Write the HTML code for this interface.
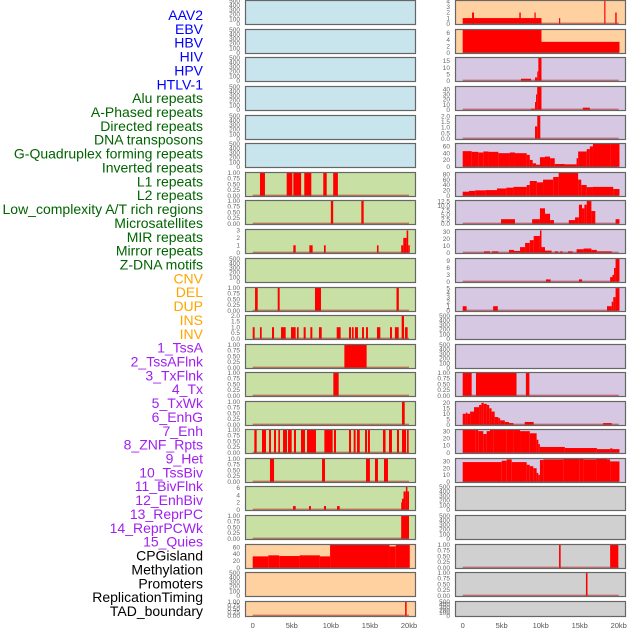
<!DOCTYPE html>
<html><head><meta charset="utf-8">
<style>
html,body{margin:0;padding:0;background:#fff;}
svg{display:block;font-family:"Liberation Sans",sans-serif;}
</style></head>
<body>
<svg id="chart" width="630" height="630" viewBox="0 0 630 630"></svg>
<script>
const labels = ["AAV2","EBV","HBV","HIV","HPV","HTLV-1","Alu repeats","A-Phased repeats","Directed repeats","DNA transposons","G-Quadruplex forming repeats","Inverted repeats","L1 repeats","L2 repeats","Low_complexity A/T rich regions","Microsatellites","MIR repeats","Mirror repeats","Z-DNA motifs","CNV","DEL","DUP","INS","INV","1_TssA","2_TssAFlnk","3_TxFlnk","4_Tx","5_TxWk","6_EnhG","7_Enh","8_ZNF_Rpts","9_Het","10_TssBiv","11_BivFlnk","12_EnhBiv","13_ReprPC","14_ReprPCWk","15_Quies","CPGisland","Methylation","Promoters","ReplicationTiming","TAD_boundary"];
const labelGroups = [6,13,5,15,5];
const xTickValues = [0,5,10,15,20];
const xTickLabels = ["0","5kb","10kb","15kb","20kb"];

// ---- left column data: [startKb, endKb, value]
const dL7 = [[0.93,1.57,1],[4.35,5.07,1],[5.2,6.2,1],[6.6,7.5,1],[9.03,9.47,1],[10.3,10.9,1]];
const dL8 = [[10.0,10.3,1],[13.9,14.2,1]];
const dL9 = [[5.2,5.5,1],[7.25,7.67,1],[9.12,9.34,1],[15.9,16.1,1],[19.0,19.27,1],[19.27,19.7,2],[19.7,19.9,3],[19.9,20.1,1]];
const dL11 = [[0.3,0.64,1],[3.2,3.45,1],[7.97,8.74,1],[18.4,18.7,1]];
const dL12 = [[0.0,0.25,1],[0.93,1.15,1],[2.47,2.73,1],[3.62,4.22,1],[4.9,5.5,1],[5.67,5.88,1],[6.52,6.78,1],[7.38,7.63,1],[8.48,8.83,1],[10.75,11.25,1],[12.32,12.58,1],[12.71,12.92,1],[13.09,13.47,1],[13.99,14.24,1],[14.5,14.75,1],[15.9,16.33,1],[17.57,17.82,1],[18.2,18.68,1],[19.06,19.36,2],[19.49,19.83,1]];
const dL13 = [[11.73,14.58,1]];
const dL14 = [[10.32,11.0,1]];
const dL15 = [[19.1,19.45,1]];
const dL16 = [[0.21,0.51,1],[1.19,1.7,1],[2.09,2.34,1],[2.73,2.98,1],[3.28,3.49,1],[3.88,4.39,1],[4.52,4.99,1],[5.28,5.54,1],[6.18,6.69,1],[6.95,8.1,1],[9.17,10.23,1],[10.4,10.66,1],[12.32,12.58,1],[12.92,13.17,1],[13.35,13.7,1],[14.37,14.63,1],[14.75,15.0,1],[16.67,17.0,1],[17.44,17.82,1],[18.46,18.72,1],[19.1,19.62,1],[19.75,19.96,1]];
const dL17 = [[2.21,2.73,1],[8.87,9.25,1],[14.5,15.0,1],[15.65,16.03,1],[16.8,17.31,1]];
const dL18 = [[5.16,5.5,1],[7.2,7.45,1],[9.12,9.38,1],[10.79,11.13,1],[19.0,19.1,2],[19.1,19.3,3],[19.3,19.6,5],[19.6,19.8,6.3],[19.8,20.0,5]];
const dL19 = [[19.0,20.0,1]];
const dL20 = [[0,2.0,33],[2.0,3.4,36],[3.4,6.0,34],[6.0,8.6,36],[8.6,9.9,33],[9.9,17.5,66],[17.5,18.3,62],[18.3,20.1,66]];
const dL22 = [[19.5,19.7,1]];

// ---- right column data
const dR1 = [[0,10.1,1],[1.2,1.45,2],[7.26,7.44,2],[9.2,9.36,2],[12.35,12.5,1],[18.15,18.3,4.2],[19.56,19.74,2]];
const dR2 = [[0,10.1,7],[10.1,20.1,3.3]];
const dR3 = [[7.47,8.76,1.5],[9.27,9.56,2.5],[9.56,9.7,7],[9.7,10.1,20]];
const dR4 = [[8.76,9.27,2],[9.27,9.4,15],[9.4,9.55,30],[9.55,10.1,50],[15.4,16.3,4]];
const dR5 = [[9.27,9.56,1.1],[9.56,9.95,2.1]];
const dR6 = [[0,1.15,46],[1.15,2.0,44],[2.0,2.64,42],[2.64,3.3,45],[3.3,4.57,44],[4.57,6.06,40],[6.06,6.7,42],[6.7,8.2,40],[8.2,8.6,35],[8.6,8.97,20],[8.97,9.4,10],[9.4,9.9,6],[9.9,10.55,28],[10.55,11.2,30],[11.2,11.8,25],[11.8,13.1,8],[13.1,14.6,7],[14.6,14.8,25],[14.8,15.9,45],[15.9,16.3,52],[16.3,16.7,60],[16.7,18.9,68],[18.9,20.1,70]];
const dR7 = [[0,0.8,15],[0.8,1.6,18],[1.6,2.9,20],[2.9,4.4,21],[4.4,5.6,27],[5.6,6.5,30],[6.5,8.2,33],[8.2,8.6,40],[8.6,9.5,55],[9.5,10.3,50],[10.3,11.6,60],[11.6,12.3,70],[12.3,14.8,85],[14.8,15.2,60],[15.2,15.9,40],[15.9,16.7,32],[16.7,19.3,33],[19.3,20.1,25]];
const dR8 = [[4.91,6.7,2.5],[8.9,9.9,2.5],[9.9,10.55,8.5],[10.55,11.2,5.5],[11.2,11.7,2],[13.6,14.4,2],[14.4,14.9,3.5],[14.9,15.3,10.5],[15.3,15.6,8.5],[15.6,15.9,10.5],[15.9,16.5,12.5],[16.5,17.0,7],[19.6,20.1,2.5]];
const dR9 = [[2.73,3.5,2],[3.76,4.57,2],[5.94,6.58,4],[6.58,7.35,2.5],[7.35,8.0,8],[8.0,8.6,14],[8.6,9.1,18],[9.1,9.9,24],[9.9,10.1,32],[10.1,10.55,8],[10.55,11.4,3],[11.8,12.25,2],[12.5,12.8,2],[13.5,14.1,2],[14.6,15.5,5],[15.5,16.5,6],[16.5,17.2,4],[17.2,19.1,2]];
const dR10 = [[10.68,11.27,1],[14.9,15.3,1],[18.9,19.2,2],[19.2,19.4,3],[19.4,19.6,6],[19.6,20.1,10]];
const dR11 = [[0,0.5,1],[3.9,4.5,1],[18.5,19.1,1],[19.1,19.3,2],[19.3,19.6,3],[19.6,20.1,5]];
const dR14 = [[0,1.15,1],[1.7,6.9,1],[8.1,8.55,1]];
const dR15 = [[0,0.4,10],[0.4,0.6,11],[0.6,0.95,10],[0.95,1.45,12],[1.45,2.1,16],[2.1,2.4,18],[2.4,2.7,20],[2.7,3.1,19],[3.1,3.4,18],[3.4,3.7,15],[3.7,4.1,12],[4.1,4.57,7],[4.57,4.8,6],[4.8,5.4,4],[5.4,5.94,2.5],[5.94,6.5,1.5],[7.95,9.1,2.5],[18.0,19.1,1.5]];
const dR16 = [[0,1.6,36],[1.6,2.0,32],[2.0,2.64,30],[2.64,3.07,26],[3.07,3.5,30],[3.5,3.93,32],[3.93,5.64,34],[5.64,6.5,33],[6.5,7.35,32],[7.35,8.6,30],[8.6,9.48,27],[9.48,9.7,18],[9.7,9.9,12],[9.9,13.1,8],[13.1,17.2,6.5],[17.2,18.9,5],[18.9,19.2,6],[19.2,20.1,5]];
const dR17 = [[0,5.0,29],[5.0,5.64,31],[5.64,6.28,33],[6.28,8.2,29],[8.2,8.6,25],[8.6,9.05,23],[9.05,9.48,20],[9.48,9.7,13],[9.7,9.9,10],[9.9,10.34,32],[10.34,12.9,33],[12.9,15.0,35],[15.0,15.5,36],[15.5,17.1,33],[17.1,18.5,35],[18.5,18.9,33],[18.9,20.1,30]];
const dR20 = [[12.35,12.56,1],[18.9,19.95,1]];
const dR21 = [[15.8,16.0,1]];

const T500 = [0,100,200,300,400,500];
const T1 = [0,0.25,0.5,0.75,1];
const L1 = ["0.00","0.25","0.50","0.75","1.00"];
// column-major panel list: [data, ymax, ticks, tickLabels]
const leftPanels = [
 [null,500,T500,null],[null,500,T500,null],[null,500,T500,null],[null,500,T500,null],[null,500,T500,null],[null,500,T500,null],
 [dL7,1,T1,L1],[dL8,1,T1,L1],[dL9,3.1,[0,1,2,3],null],[null,500,T500,null],[dL11,1,T1,L1],
 [dL12,2,[0,0.5,1,1.5,2],["0.0","0.5","1.0","1.5","2.0"]],[dL13,1,T1,L1],[dL14,1,T1,L1],[dL15,1,T1,L1],
 [dL16,1,T1,L1],[dL17,1,T1,L1],[dL18,6.3,[0,2,4,6],null],[dL19,1,T1,L1],
 [dL20,67,[0,20,40,60],null],[null,500,T500,null],[dL22,1,T1,L1]
];
const rightPanels = [
 [dR1,4.1,[0,1,2,3,4],null],[dR2,7,[0,2,4,6],null],[dR3,17.5,[0,5,10,15],null],[dR4,45,[0,10,20,30,40],null],
 [dR5,2.05,[0,0.5,1,1.5,2],["0.0","0.5","1.0","1.5","2.0"]],[dR6,68,[0,20,40,60],null],[dR7,86,[0,20,40,60,80],null],
 [dR8,12.7,[0,2.5,5,7.5,10,12.5],["0.0","2.5","5.0","7.5","10.0","12.5"]],[dR9,33,[0,10,20,30],null],[dR10,10,[0,3,6,9],null],
 [dR11,5.1,[0,1,2,3,4,5],null],[null,500,T500,null],[null,500,T500,null],[dR14,1,T1,L1],
 [dR15,21,[0,5,10,15,20],null],[dR16,32,[0,10,20,30],null],[dR17,34,[0,10,20,30],null],
 [null,500,T500,null],[null,500,T500,null],[dR20,1,T1,L1],[dR21,1,T1,L1],[null,500,T500,null]
];

const NS = "http://www.w3.org/2000/svg";
const svg = document.getElementById("chart");
function mk(tag, attrs, parent){ const e=document.createElementNS(NS,tag); for(const k in attrs) e.setAttribute(k,attrs[k]); (parent||svg).appendChild(e); return e; }

const labelColors = ["#0000ff","#006400","#ffa500","#a020f0","#000000"];
let gi=0, cnt=0;
labels.forEach((t,i)=>{
  while(i>=cnt+labelGroups[gi]){cnt+=labelGroups[gi];gi++;}
  const e = mk("text",{x:203,y:15+i*13.86+5,"text-anchor":"end","font-size":"14",fill:labelColors[gi]});
  e.textContent=t;
  
  
});

const tops = [0,29,57,86,115,143,172,200,229,258,287,315,344,372,401,429,458,486,515,544,572,601];
const bgLeft = i => i<6 ? "#c8e4ec" : (i<19 ? "#c8e0a4" : "#ffd0a0");
const bgRight = i => i<2 ? "#ffd0a0" : (i<17 ? "#d6c8e2" : "#d0d0d0");

function drawPanel(p, row, col){
  const [data,ymax,ticks,tlabels] = p;
  const x0 = col===0 ? 245 : 455, x1 = col===0 ? 416 : 626;
  const xs = col===0 ? (k=>252.7+k*7.815) : (k=>462.7+k*7.8);
  const top = tops[row], h = row===21 ? 16 : 25, bot = top+h;
  const ys = v => (bot-1.3) - v/ymax*(h-2);
  const g = mk("g",{});
  
  
  mk("rect",{x:x0,y:top,width:x1-x0,height:h,fill:col===0?bgLeft(row):bgRight(row)},g);
  const cid = "c"+col+"_"+row;
  const cp = mk("clipPath",{id:cid},g);
  mk("rect",{x:x0,y:top,width:x1-x0,height:h},cp);
  const dg = mk("g",{"clip-path":"url(#"+cid+")"},g);
  if(data){
    data.forEach(d=>{
      const y=ys(d[2]);
      const r = mk("rect",{x:xs(d[0]),y:y,width:Math.max(0.8,xs(d[1])-xs(d[0])),height:ys(0)-y,fill:"#ff0000"},dg);
      
      
    });
    const bl = mk("line",{x1:xs(0),x2:xs(20),y1:ys(0)-0.3,y2:ys(0)-0.3,stroke:"#b02020","stroke-opacity":"0.55","stroke-width":"1.6"},dg);
    
    
  }
  mk("rect",{x:x0+0.5,y:top+0.5,width:x1-x0-1,height:h-1,fill:"none",stroke:"#666","stroke-width":"1.2"},g);
  ticks.forEach((tv,k)=>{
    const t = mk("text",{x:x0-5,y:ys(tv)+2.2,"text-anchor":"end","font-size":"6.5",fill:"#666"},g);
    t.textContent = tlabels ? tlabels[k] : String(tv);
    
    
  });
}
leftPanels.forEach((p,i)=>drawPanel(p,i,0));
rightPanels.forEach((p,i)=>drawPanel(p,i,1));

[0,1].forEach(col=>{
  const xs = col===0 ? (k=>252.7+k*7.815) : (k=>462.7+k*7.8);
  xTickValues.forEach((v,k)=>{
    const t = mk("text",{x:xs(v),y:628,"text-anchor":"middle","font-size":"7.5",fill:"#555"});
    t.textContent = xTickLabels[k];
    
    
  });
});
</script>
</body></html>
